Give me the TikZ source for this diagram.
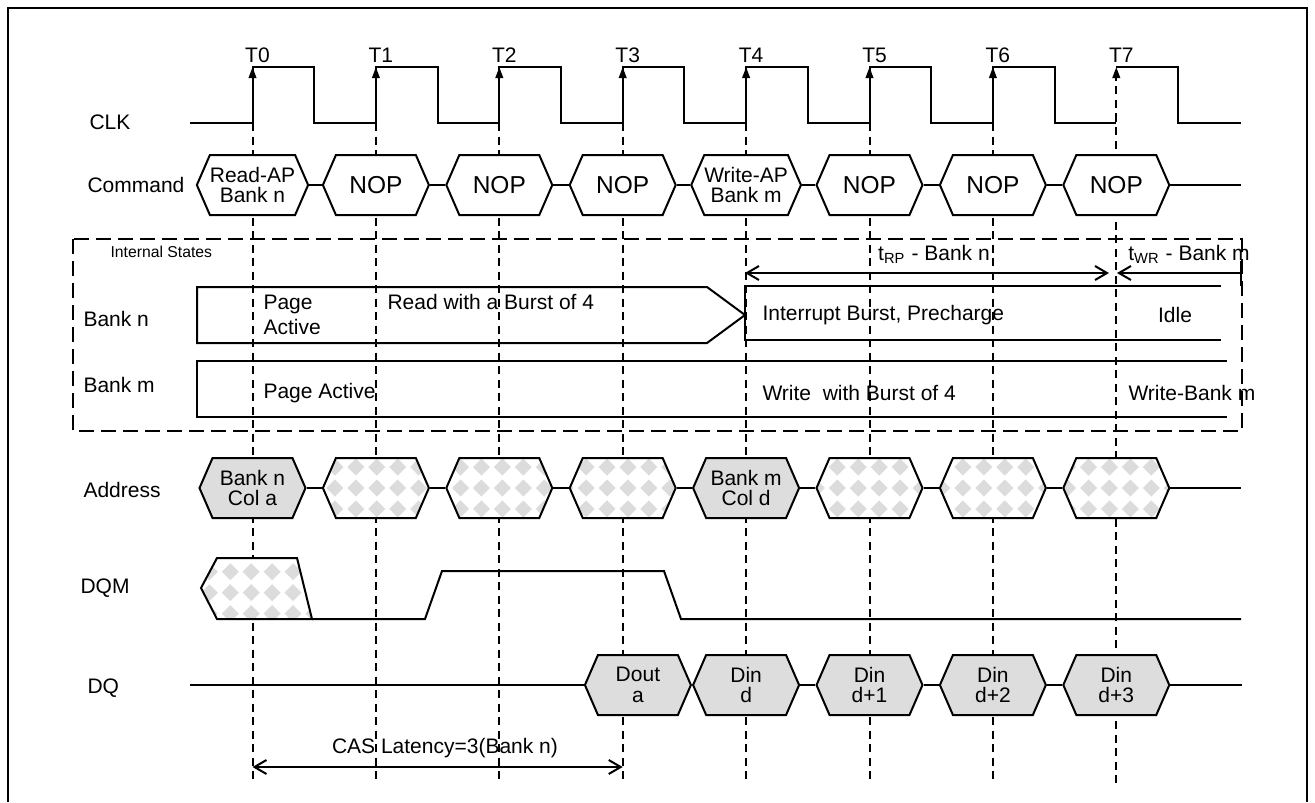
\documentclass[tikz,border=0pt]{standalone}
\usepackage{fontspec}
\setmainfont{Liberation Sans}
\usetikzlibrary{arrows.meta, positioning, shapes.symbols, patterns.meta}
\definecolor{boxgray}{HTML}{DDDDDD}
\definecolor{dotgray}{HTML}{DCDCDC}

\tikzdeclarepattern{
  name=diamonds,
  bottom left={(-4.1865pt,-4.1865pt)},
  top right={(4.1865pt,4.1865pt)},
  tile size={(8.373pt,8.373pt)},
  code={
    \fill (0pt,-3.4pt) -- (3.4pt,0pt) -- (0pt,3.4pt) -- (-3.4pt,0pt) -- cycle;
  }
}

\begin{document}
\begin{tikzpicture}[
    x=0.4pt, y=-0.4pt,
    font=\fontsize{8.4}{8.4}\selectfont,
    wave/.style={line width=0.8pt},
    guide/.style={line width=0.8pt, dash pattern=on 3.2pt off 2.2pt},
    frame/.style={line width=0.8pt, dash pattern=on 6pt off 2.8pt},
    hex/.style={signal, signal to=east and west, signal pointer angle=133, draw, line width=0.8pt,
                fill=white, minimum width=42.4pt, minimum height=24pt, inner sep=0pt, align=center,
                font=\fontsize{8.4}{8.2}\selectfont},
    nop/.style={hex, font=\fontsize{9.8}{9.8}\selectfont},
    val/.style={hex, fill=boxgray},
    dc/.style={hex, preaction={fill=white}, pattern=diamonds, pattern color=dotgray},
    lbl/.style={anchor=west, inner sep=0pt},
    dim/.style={line width=0.8pt, {Straight Barb[length=4.8pt,width=5.6pt]}-{Straight Barb[length=4.8pt,width=5.6pt]}},
    tick/.style={-{Triangle[length=4.4pt,width=3pt]}}
  ]
  \useasboundingbox (0,0) rectangle (1315,802);
  \draw[wave] (8,802) -- (8,8) -- (1307,8) -- (1307,802);

  % clock edges and guides
  \foreach \k in {0,...,7}{
    \pgfmathsetmacro\tx{252.5+123.4*\k}
    \coordinate (t\k) at (\tx,67);
    \coordinate (b\k) at (\tx,783);
    \node at (\tx+5,55) {T\k};
  }
  \foreach \k in {0,...,6}
    \draw[guide] (t\k |- 0,123) -- (b\k);
  \draw[guide, tick] (b7) -- (t7);

  \draw[wave] (190,123) foreach \k in {0,...,6}{ -- (t\k |- 0,123) -- (t\k) -- ++(61.7,0) -- ++(0,56) }
    -- (t7 |- 0,123);
  \draw[wave] (t7) -- ++(61.7,0) -- ++(0,56) -- (1241,123);
  \foreach \k in {0,...,6}
    \draw[wave, tick] (t\k) ++(0,30) -- (t\k);

  % signal names
  \node[lbl] (clk) at (89,122) {CLK};
  \node[lbl] (cmd) at (87,185) {Command};
  \node[lbl] (bkn) at (83,319) {Bank n};
  \node[lbl] (bkm) at (83,385) {Bank m};
  \node[lbl] (adr) at (83,490) {Address};
  \node[lbl] (dqm) at (80,588) {DQM};
  \node[lbl] (dq) at (87,688) {DQ};

  % command bus
  \node[hex] (c0) at (t0 |- 0,185) {Read-AP\\Bank n};
  \node[hex] (c4) at (t4 |- 0,185) {Write-AP\\Bank m};
  \foreach \k in {1,2,3,5,6,7}
    \node[nop] (c\k) at (t\k |- 0,185) {NOP};
  \foreach \k [count=\j] in {0,...,6}
    \draw[wave] (c\k.east) -- (c\j.west);
  \coordinate (cend) at (1241,185);
  \draw[wave] (c7.east) -- (cend);

  % internal states
  \draw[frame] (73,239) rectangle (1242,431);
  \node[lbl, font=\fontsize{6.3}{6.3}\selectfont] (ist) at (110,252) {Internal States};
  \draw[wave] (197,287) -- (707,287) -- (745,315) -- (707,343) -- (197,343) -- cycle;
  \node[lbl, align=left, font=\fontsize{8.4}{10.2}\selectfont] (pan) at (263,315) {Page\\Active};
  \node[lbl] (rdb) at (387,302) {Read with a Burst of 4};
  \draw[wave] (1221,286) -- (745,286) -- (745,340) -- (1221,340);
  \node[lbl] (ibp) at (762,315) {Interrupt Burst, Precharge};
  \node (idl) at (1175,315) {Idle};
  \draw[wave] (1227,361) -- (197,361) -- (197,417) -- (1227,417);
  \node[lbl] (pam) at (263,393) {Page Active};
  \node[lbl] (wrb) at (762,393) {Write~ with Burst of 4};
  \node[lbl] (wbm) at (1128,393) {Write-Bank m};

  \coordinate (rp0) at (745,273);
  \coordinate (rp1) at (1109,273);
  \draw[dim] (rp0) -- (rp1);
  \node (trp) at (934,254) {t\textsubscript{RP} - Bank n};
  \coordinate (wr0) at (1117,273);
  \coordinate (wr1) at (1242,273);
  \draw[line width=0.8pt, {Straight Barb[length=4.8pt,width=5.6pt]}-{Bar[width=10pt]}] (wr0) -- (wr1);
  \node (twr) at (1189,254) {t\textsubscript{WR} - Bank m};

  % address bus
  \node[val] (a0) at (t0 |- 0,488) {Bank n\\Col a};
  \node[val] (a4) at (t4 |- 0,488) {Bank m\\Col d};
  \foreach \k in {1,2,3,5,6,7}
    \node[dc] (a\k) at (t\k |- 0,488) {};
  \foreach \k [count=\j] in {0,...,6}
    \draw[wave] (a\k.east) -- (a\j.west);
  \coordinate (aend) at (1241,488);
  \draw[wave] (a7.east) -- (aend);

  % DQM
  \draw[wave, preaction={fill=white}, pattern=diamonds, pattern color=dotgray]
    (201,588) -- (217,558) -- (297,558) -- (312,619) -- (217,619) -- cycle;
  \draw[wave] (312,619) -- (425,619) -- (442,571) -- (664,571) -- (681,619) -- (1241,619);

  % data bus
  \node[val] (q1) at (t4 |- 0,685) {Din\\d};
  \node[val] (q2) at (t5 |- 0,685) {Din\\d+1};
  \node[val] (q3) at (t6 |- 0,685) {Din\\d+2};
  \node[val] (q4) at (t7 |- 0,685) {Din\\d+3};
  \node[val, left=0pt of q1] (q0) {Dout\\a};
  \coordinate (qbeg) at (190,685);
  \coordinate (qend) at (1242,685);
  \draw[wave] (qbeg) -- (q0.west);
  \foreach \k [count=\j from 2] in {1,2,3}
    \draw[wave] (q\k.east) -- (q\j.west);
  \draw[wave] (q4.east) -- (qend);

  % CAS latency
  \coordinate (cas0) at (t0 |- 0,767);
  \coordinate (cas1) at (t3 |- 0,767);
  \draw[dim] (cas0) -- (cas1);
  \node (cas) at (445,748) {CAS Latency=3(Bank n)};
\end{tikzpicture}
\end{document}
